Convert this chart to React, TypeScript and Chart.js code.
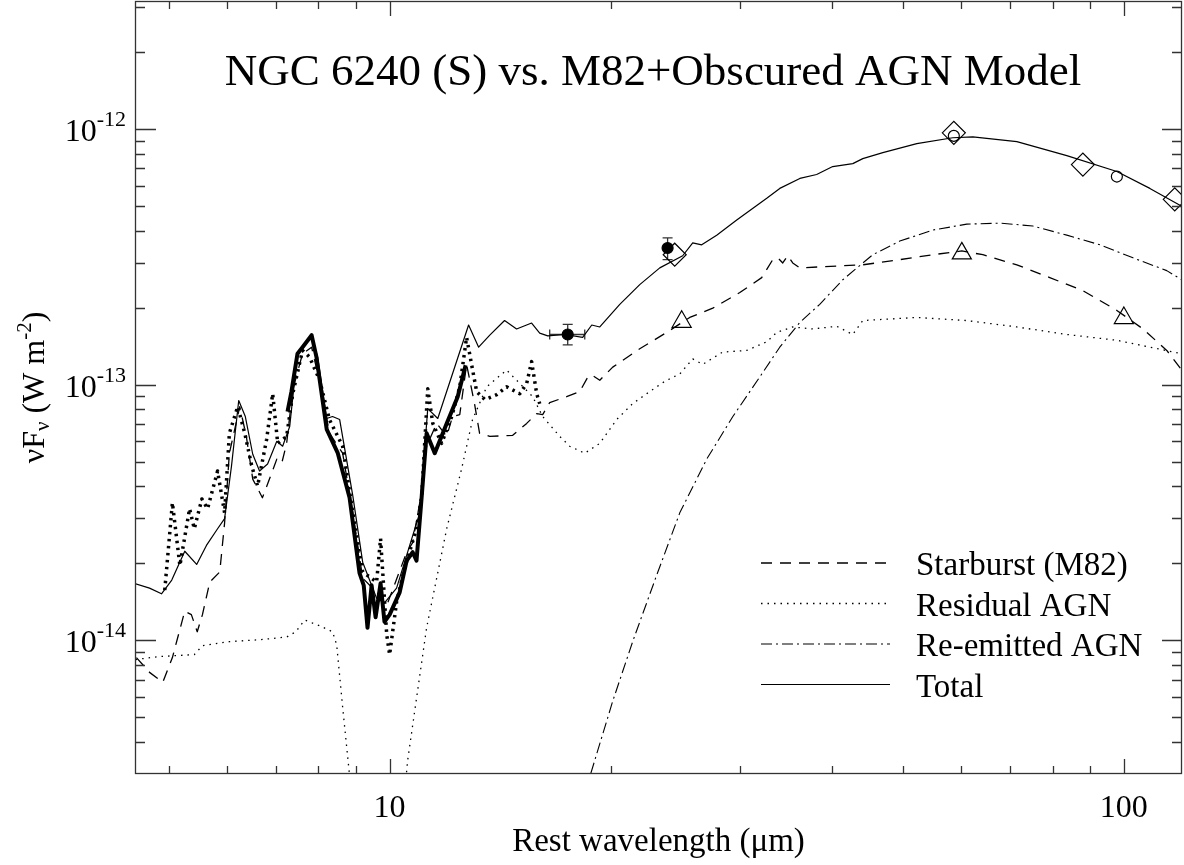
import React, { useEffect, useRef } from "react";
import { Chart, registerables } from "chart.js";

Chart.register(...registerables);

const FONT = '"Liberation Serif", "Times New Roman", Times, serif';
const CANVAS_W = 1184;
const CANVAS_H = 865;

const titleText = "NGC 6240 (S) vs. M82+Obscured AGN Model";
const xAxisTitle = "Rest wavelength (μm)";

const xMin = 4.5;
const xMax = 120;
const yMin = 3.1623e-15;
const yMax = 3.1623e-12;

const xMajorTicks = [10, 100];
const xMajorLabels = ["10", "100"];
const xMinorTicks = [5, 6, 7, 8, 9, 20, 30, 40, 50, 60, 70, 80, 90];
const yMajorTicks = [1e-14, 1e-13, 1e-12];
const yMajorExponents = ["-14", "-13", "-12"];
const yMinorTicks = [
  4e-15, 5e-15, 6e-15, 7e-15, 8e-15, 9e-15,
  2e-14, 3e-14, 4e-14, 5e-14, 6e-14, 7e-14, 8e-14, 9e-14,
  2e-13, 3e-13, 4e-13, 5e-13, 6e-13, 7e-13, 8e-13, 9e-13,
  2e-12, 3e-12,
];

// Total model (thin solid)
const totalWave = [4.49, 4.71, 4.89, 5.05, 5.26, 5.46, 5.63, 5.83, 5.96, 6.09, 6.23, 6.36, 6.51, 6.65, 6.82, 7.02, 7.15, 7.31, 7.49, 7.71, 7.83, 7.98, 8.21, 8.36, 8.55, 8.91, 9.19, 9.6, 9.84, 10.22, 10.65, 10.99, 11.27, 11.63, 12.81, 13.22, 13.69, 14.34, 14.89, 15.61, 16.01, 16.42, 17.32, 18.32, 18.85, 19.33, 20.58, 21.91, 23.33, 25.07, 25.87, 26.61, 27.89, 29.7, 32.63, 33.99, 36.2, 38.16, 40.13, 42.74, 44.1, 46.96, 52.24, 58.48, 62.27, 71.49, 83.61, 97.83, 108.5, 119.9];
const totalFlux = [1.67e-14, 1.6e-14, 1.52e-14, 1.72e-14, 2.23e-14, 1.98e-14, 2.35e-14, 2.73e-14, 2.99e-14, 4.8e-14, 8.66e-14, 7.5e-14, 5.34e-14, 4.59e-14, 4.89e-14, 6.0e-14, 5.74e-14, 6.86e-14, 1.32e-13, 1.47e-13, 1.53e-13, 1.28e-13, 7.37e-14, 7.5e-14, 7.3e-14, 3.67e-14, 2.02e-14, 1.46e-14, 1.4e-14, 1.6e-14, 2.35e-14, 3.15e-14, 8.05e-14, 7.37e-14, 1.71e-13, 1.4e-13, 1.56e-13, 1.78e-13, 1.65e-13, 1.74e-13, 1.59e-13, 1.55e-13, 1.57e-13, 1.53e-13, 1.71e-13, 1.68e-13, 2.06e-13, 2.46e-13, 2.86e-13, 3.19e-13, 3.58e-13, 3.52e-13, 3.84e-13, 4.4e-13, 5.35e-13, 5.85e-13, 6.4e-13, 6.63e-13, 7.12e-13, 7.31e-13, 7.65e-13, 8.07e-13, 8.75e-13, 9.23e-13, 9.31e-13, 8.91e-13, 7.86e-13, 6.81e-13, 5.85e-13, 4.98e-13];

// Starburst (M82) template (dashed)
const starburstWave = [4.52, 4.71, 4.91, 5.06, 5.26, 5.37, 5.47, 5.56, 5.69, 5.87, 5.96, 6.05, 6.25, 6.38, 6.51, 6.71, 6.86, 7.02, 7.13, 7.24, 7.38, 7.61, 7.83, 8.1, 8.28, 8.63, 8.91, 9.19, 9.69, 9.91, 10.55, 10.75, 10.99, 11.23, 11.59, 11.96, 12.18, 12.46, 12.73, 13.05, 13.26, 13.69, 14.71, 15.37, 15.86, 16.16, 16.52, 17.42, 18.15, 18.62, 18.85, 19.33, 20.13, 21.91, 23.85, 25.63, 27.55, 29.99, 32.12, 33.25, 33.78, 34.31, 34.85, 35.4, 36.2, 38.9, 44.1, 49.53, 54.93, 60.16, 64.26, 71.49, 79.27, 87.94, 97.83, 106.2, 114.4, 119.9];
const starburstFlux = [8.56e-15, 7.49e-15, 6.85e-15, 8.56e-15, 1.3e-14, 1.26e-14, 1.08e-14, 1.26e-14, 1.69e-14, 1.85e-14, 2.88e-14, 5.39e-14, 8.2e-14, 6.27e-14, 4.27e-14, 3.61e-14, 4.27e-14, 5.11e-14, 4.93e-14, 5.89e-14, 9.54e-14, 1.32e-13, 1.4e-13, 9.21e-14, 6.45e-14, 5.39e-14, 3.15e-14, 1.75e-14, 1.5e-14, 1.37e-14, 2.21e-14, 2.41e-14, 3.45e-14, 5.74e-14, 7.05e-14, 6.27e-14, 7.5e-14, 7.63e-14, 1.2e-13, 8.42e-14, 6.45e-14, 6.27e-14, 6.33e-14, 7.05e-14, 7.7e-14, 7.63e-14, 8.5e-14, 8.97e-14, 9.38e-14, 1.07e-13, 1.09e-13, 1.04e-13, 1.17e-13, 1.38e-13, 1.6e-13, 1.83e-13, 1.99e-13, 2.29e-13, 2.62e-13, 3.08e-13, 3.13e-13, 2.99e-13, 3.19e-13, 2.99e-13, 2.86e-13, 2.89e-13, 2.94e-13, 3.08e-13, 3.22e-13, 3.33e-13, 3.22e-13, 2.94e-13, 2.62e-13, 2.33e-13, 1.95e-13, 1.65e-13, 1.36e-13, 1.14e-13];

// Residual AGN (dotted)
const residualWave = [4.51, 4.86, 5.42, 5.56, 6.05, 6.65, 7.24, 7.45, 7.66, 8.03, 8.36, 8.47, 8.63, 8.87, 10.48, 10.58, 11.23, 11.96, 12.53, 12.97, 13.56, 14.43, 15.04, 15.66, 16.16, 17.05, 17.59, 18.44, 19.33, 20.38, 21.43, 22.39, 23.7, 24.84, 25.87, 26.69, 28.42, 30.65, 32.63, 33.67, 35.4, 37.7, 40.64, 42.74, 44.1, 52.24, 61.1, 71.49, 83.61, 97.83, 119.9];
const residualFlux = [8.41e-15, 8.64e-15, 8.79e-15, 9.53e-15, 9.88e-15, 1.005e-14, 1.03e-14, 1.08e-14, 1.2e-14, 1.14e-14, 1.08e-14, 9.61e-15, 5.48e-15, 2.52e-15, 2.52e-15, 3.38e-15, 1.12e-14, 2.73e-14, 4.67e-14, 7.3e-14, 9.8e-14, 1.14e-13, 1.01e-13, 8.97e-14, 7.5e-14, 6.27e-14, 5.74e-14, 5.39e-14, 5.89e-14, 7.3e-14, 8.42e-14, 9.21e-14, 1.03e-13, 1.1e-13, 1.26e-13, 1.2e-13, 1.34e-13, 1.36e-13, 1.47e-13, 1.6e-13, 1.68e-13, 1.65e-13, 1.69e-13, 1.57e-13, 1.78e-13, 1.83e-13, 1.78e-13, 1.68e-13, 1.57e-13, 1.49e-13, 1.32e-13];

// Re-emitted AGN (dash-dot)
const reemitWave = [18.44, 19.02, 20.13, 21.43, 23.11, 24.84, 27.03, 29.34, 31.92, 33.99, 36.2, 38.53, 41.42, 45.5, 49.53, 54.93, 61.1, 67.78, 75.16, 83.61, 92.75, 102.9, 114.4, 119.9];
const reemitFlux = [2.52e-15, 3.38e-15, 5.78e-15, 9.88e-15, 1.8e-14, 3.15e-14, 5.11e-14, 7.5e-14, 1.07e-13, 1.4e-13, 1.75e-13, 2.06e-13, 2.57e-13, 3.22e-13, 3.64e-13, 4.02e-13, 4.24e-13, 4.28e-13, 4.17e-13, 3.84e-13, 3.52e-13, 3.13e-13, 2.79e-13, 2.57e-13];

// Observed spectrum (thick solid)
const specWave = [7.26, 7.35, 7.49, 7.61, 7.83, 7.95, 8.21, 8.5, 8.82, 9.1, 9.22, 9.33, 9.45, 9.57, 9.72, 9.84, 10.0, 10.32, 10.55, 10.75, 10.88, 11.06, 11.23, 11.52, 11.96, 12.38, 12.69];
const specFlux = [7.84e-14, 9.38e-14, 1.32e-13, 1.4e-13, 1.56e-13, 1.28e-13, 6.68e-14, 5.39e-14, 3.61e-14, 1.83e-14, 1.64e-14, 1.12e-14, 1.64e-14, 1.23e-14, 1.67e-14, 1.18e-14, 1.26e-14, 1.54e-14, 2.05e-14, 2.21e-14, 2.05e-14, 3.67e-14, 6.45e-14, 5.39e-14, 7.05e-14, 8.97e-14, 1.19e-13];

// Observed spectrum (thick dotted)
const spec2Wave = [4.94, 5.06, 5.18, 5.34, 5.42, 5.55, 5.65, 5.83, 5.96, 6.05, 6.21, 6.35, 6.49, 6.61, 6.8, 6.93, 7.04, 7.24, 7.38, 7.61, 7.78, 8.03, 8.28, 8.63, 8.91, 9.19, 9.6, 9.72, 9.91, 10.0, 10.22, 10.48, 10.88, 11.06, 11.27, 11.45, 11.77, 12.15, 12.46, 12.73, 12.93, 13.14, 13.48, 13.99, 14.43, 15.04, 15.37, 15.61, 15.86, 16.01];
const spec2Flux = [1.57e-14, 3.45e-14, 1.96e-14, 3.27e-14, 2.73e-14, 3.57e-14, 3.27e-14, 4.59e-14, 3.15e-14, 6.45e-14, 8.2e-14, 6.45e-14, 4.8e-14, 4.01e-14, 6.11e-14, 9.21e-14, 5.89e-14, 6.27e-14, 9.21e-14, 1.36e-13, 1.28e-13, 1.04e-13, 7.3e-14, 5.74e-14, 3.15e-14, 1.85e-14, 1.69e-14, 2.5e-14, 1.05e-14, 8.79e-15, 1.41e-14, 1.91e-14, 2.73e-14, 3.67e-14, 9.63e-14, 7.05e-14, 5.89e-14, 7.5e-14, 9.8e-14, 1.53e-13, 1.2e-13, 9.38e-14, 8.73e-14, 9.13e-14, 9.8e-14, 9.21e-14, 1.01e-13, 1.23e-13, 9.21e-14, 8.42e-14];

// Photometry with error bars (filled circles)
const photWave = [17.48, 23.91];
const photFlux = [1.57e-13, 3.42e-13];
const photFluxLow = [1.43e-13, 3.08e-13];
const photFluxHigh = [1.72e-13, 3.75e-13];
const photWaveLow: (number | null)[] = [16.52, null];
const photWaveHigh: (number | null)[] = [18.44, null];

// Diamonds
const diamondWave = [24.45, 58.67, 87.94, 117.3];
const diamondFlux = [3.22e-13, 9.65e-13, 7.25e-13, 5.3e-13];
// Open circles
const circleWave = [58.67, 97.83];
const circleFlux = [9.39e-13, 6.51e-13];
// Triangles
const triangleWave = [24.99, 60.16, 100.0];
const triangleFlux = [1.76e-13, 3.26e-13, 1.82e-13];

const legendLabels = ["Starburst (M82)", "Residual AGN", "Re-emitted AGN", "Total"];

const pts = (xs: number[], ys: number[]) => xs.map((x, i) => ({ x, y: ys[i] }));

type Part = { t: string; size: number; dy: number };

function drawRich(ctx: CanvasRenderingContext2D, parts: Part[], x: number, y: number, align: "left" | "center" | "right") {
  let total = 0;
  const widths: number[] = [];
  for (const p of parts) {
    ctx.font = `${p.size}px ${FONT}`;
    const w = ctx.measureText(p.t).width;
    widths.push(w);
    total += w;
  }
  let cx = align === "left" ? x : align === "center" ? x - total / 2 : x - total;
  ctx.textAlign = "left";
  ctx.textBaseline = "alphabetic";
  parts.forEach((p, i) => {
    ctx.font = `${p.size}px ${FONT}`;
    ctx.fillText(p.t, cx, y + p.dy);
    cx += widths[i];
  });
}

const decorPlugin = {
  id: "decor",
  beforeDatasetsDraw(chart: any) {
    const { ctx } = chart;
    const xs = chart.scales.x;
    const ys = chart.scales.y;
    ctx.save();
    ctx.strokeStyle = "#333";
    ctx.lineWidth = 1.3;
    for (let i = 0; i < photWave.length; i++) {
      const px = xs.getPixelForValue(photWave[i]);
      const py = ys.getPixelForValue(photFlux[i]);
      const hi = ys.getPixelForValue(photFluxHigh[i]);
      const lo = ys.getPixelForValue(photFluxLow[i]);
      ctx.beginPath();
      ctx.moveTo(px, hi);
      ctx.lineTo(px, lo);
      ctx.moveTo(px - 5, hi);
      ctx.lineTo(px + 5, hi);
      ctx.moveTo(px - 5, lo);
      ctx.lineTo(px + 5, lo);
      const wl = photWaveLow[i];
      const wh = photWaveHigh[i];
      if (wl != null && wh != null) {
        const x1 = xs.getPixelForValue(wl);
        const x2 = xs.getPixelForValue(wh);
        ctx.moveTo(x1, py);
        ctx.lineTo(x2, py);
        ctx.moveTo(x1, py - 5);
        ctx.lineTo(x1, py + 5);
        ctx.moveTo(x2, py - 5);
        ctx.lineTo(x2, py + 5);
      }
      ctx.stroke();
    }
    ctx.restore();
  },
  afterDraw(chart: any) {
    const { ctx, chartArea: a } = chart;
    const xs = chart.scales.x;
    const ys = chart.scales.y;
    ctx.save();
    // frame
    ctx.strokeStyle = "#333";
    ctx.lineWidth = 1.3;
    ctx.strokeRect(a.left + 0.5, a.top + 0.5, a.right - a.left - 1, a.bottom - a.top - 1);
    ctx.beginPath();
    const xTick = (v: number, len: number) => {
      const px = Math.round(xs.getPixelForValue(v)) + 0.5;
      ctx.moveTo(px, a.bottom);
      ctx.lineTo(px, a.bottom - len);
      ctx.moveTo(px, a.top);
      ctx.lineTo(px, a.top + len);
    };
    const yTick = (v: number, lenL: number, lenR: number) => {
      const py = Math.round(ys.getPixelForValue(v)) + 0.5;
      ctx.moveTo(a.left, py);
      ctx.lineTo(a.left + lenL, py);
      ctx.moveTo(a.right, py);
      ctx.lineTo(a.right - lenR, py);
    };
    xMajorTicks.forEach((v) => xTick(v, 15));
    xMinorTicks.forEach((v) => xTick(v, 8));
    yMajorTicks.forEach((v) => yTick(v, 21, 20));
    yMinorTicks.forEach((v) => yTick(v, 10, 10));
    ctx.stroke();

    ctx.fillStyle = "#000";
    // y tick labels
    yMajorTicks.forEach((v, i) => {
      const py = ys.getPixelForValue(v);
      drawRich(ctx, [{ t: "10", size: 32, dy: 0 }, { t: yMajorExponents[i], size: 22, dy: -15 }], a.left - 9, py + 12, "right");
    });
    // x tick labels
    xMajorTicks.forEach((v, i) => {
      const px = xs.getPixelForValue(v);
      drawRich(ctx, [{ t: xMajorLabels[i], size: 32, dy: 0 }], px, a.bottom + 43, "center");
    });
    // x title
    drawRich(ctx, [{ t: xAxisTitle, size: 33, dy: 0 }], (a.left + a.right) / 2, a.bottom + 77, "center");
    // y title
    ctx.save();
    ctx.translate(44, (a.top + a.bottom) / 2);
    ctx.rotate(-Math.PI / 2);
    drawRich(
      ctx,
      [
        { t: "νF", size: 32, dy: 0 },
        { t: "ν", size: 21, dy: 5 },
        { t: " (W m", size: 32, dy: 0 },
        { t: "-2", size: 21, dy: -13 },
        { t: ")", size: 32, dy: 0 },
      ],
      0,
      0,
      "center"
    );
    ctx.restore();
    // title
    drawRich(ctx, [{ t: titleText, size: 45, dy: 0 }], 653, a.top + 84, "center");

    // legend
    const legendDs = [1, 2, 3, 0];
    legendDs.forEach((di, row) => {
      const ds = chart.data.datasets[di];
      const y = a.top + 562 + row * 40.5;
      ctx.save();
      ctx.strokeStyle = "#000";
      ctx.lineWidth = ds.borderWidth;
      ctx.setLineDash(ds.borderDash || []);
      ctx.beginPath();
      ctx.moveTo(a.left + 626, y);
      ctx.lineTo(a.left + 755, y);
      ctx.stroke();
      ctx.restore();
      drawRich(ctx, [{ t: legendLabels[row], size: 33, dy: 0 }], a.left + 781, y + 12, "left");
    });
    ctx.restore();
  },
};

export default function App() {
  const ref = useRef<HTMLCanvasElement>(null);
  useEffect(() => {
    const canvas = ref.current;
    if (!canvas) return;
    const line = (label: string, xs: number[], ys: number[], width: number, dash: number[]) => ({
      label,
      data: pts(xs, ys),
      showLine: true,
      borderColor: "#000",
      backgroundColor: "#000",
      borderWidth: width,
      borderDash: dash,
      borderCapStyle: "butt",
      borderJoinStyle: "round",
      pointRadius: 0,
      pointHoverRadius: 0,
      tension: 0,
    });
    const marker = (label: string, xs: number[], ys: number[], style: string, radius: number, fill: string) => ({
      label,
      data: pts(xs, ys),
      showLine: false,
      pointStyle: style,
      pointRadius: radius,
      pointHoverRadius: radius,
      pointBorderWidth: 1.2,
      borderColor: "#000",
      pointBorderColor: "#000",
      pointBackgroundColor: fill,
      backgroundColor: fill,
    });
    const chart = new Chart(canvas, {
      type: "scatter",
      data: {
        datasets: [
          line(legendLabels[3], totalWave, totalFlux, 1.2, []),
          line(legendLabels[0], starburstWave, starburstFlux, 1.3, [11, 8]),
          line(legendLabels[1], residualWave, residualFlux, 1.3, [1.5, 5]),
          line(legendLabels[2], reemitWave, reemitFlux, 1.1, [11, 4, 2, 4]),
          line("Spectrum", specWave, specFlux, 4, []),
          line("Spectrum (dotted)", spec2Wave, spec2Flux, 3.5, [2.5, 4.5]),
          marker("Diamonds", diamondWave, diamondFlux, "rectRot", 11.5, "rgba(0,0,0,0)"),
          marker("Open circles", circleWave, circleFlux, "circle", 5.5, "rgba(0,0,0,0)"),
          marker("Triangles", triangleWave, triangleFlux, "triangle", 11, "rgba(0,0,0,0)"),
          marker("Photometry", photWave, photFlux, "circle", 5.5, "#000"),
        ] as any,
      },
      options: {
        animation: false,
        responsive: false,
        devicePixelRatio: 1,
        layout: { autoPadding: false, padding: { left: 135, top: 1, right: 2, bottom: 91 } },
        scales: {
          x: { type: "logarithmic", min: xMin, max: xMax, display: false },
          y: { type: "logarithmic", min: yMin, max: yMax, display: false },
        },
        plugins: {
          legend: { display: false },
          tooltip: { enabled: false },
          title: { display: false },
        },
        events: [],
      } as any,
      plugins: [decorPlugin],
    });
    return () => chart.destroy();
  }, []);
  return (
    <div style={{ position: "fixed", left: 0, top: 0, width: CANVAS_W, height: CANVAS_H, background: "#fff" }}>
      <canvas ref={ref} width={CANVAS_W} height={CANVAS_H} style={{ display: "block", width: CANVAS_W, height: CANVAS_H }} />
    </div>
  );
}
